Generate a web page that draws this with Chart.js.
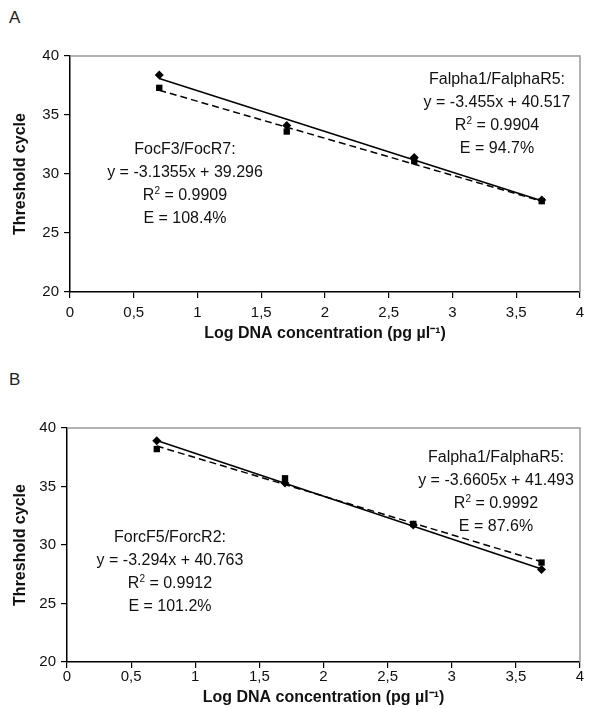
<!DOCTYPE html>
<html>
<head>
<meta charset="utf-8">
<script src="https://cdn.jsdelivr.net/npm/chart.js@4.4.1/dist/chart.umd.min.js"></script>
<style>
  body { margin: 0; background: #fff; width: 616px; height: 708px; position: relative; overflow: hidden; font-family: "Liberation Sans", Arial, sans-serif; }
  .panel-label { position: absolute; left: 9px; font-size: 17px; color: #222; }
  canvas { position: absolute; left: 0; }
</style>
</head>
<body>
<div class="panel-label" style="top: 8px;">A</div>
<div class="panel-label" style="top: 370px;">B</div>
<canvas id="chartA" width="616" height="350" style="top:0"></canvas>
<canvas id="chartB" width="616" height="348" style="top:360px"></canvas>
<script>
// x values (log DNA concentration)
const logConc = [0.7, 1.7, 2.7, 3.7];
const xTicks = [0, 0.5, 1, 1.5, 2, 2.5, 3, 3.5, 4];
const yTicks = [20, 25, 30, 35, 40];

// panel A threshold cycles
const ctA_falpha = [38.4, 34.1, 31.4, 27.8];
const ctA_foc = [37.3, 33.6, 31.1, 27.7];
// panel B threshold cycles
const ctB_falpha = [38.9, 35.3, 31.7, 27.9];
const ctB_forc = [38.2, 35.7, 31.8, 28.5];

// trendline equations [solid, dashed]
const slopeA = [-3.455, -3.1355];
const interceptA = [40.517, 39.296];
const slopeB = [-3.6605, -3.294];
const interceptB = [41.493, 40.763];

const primerA = ["Falpha1/FalphaR5:", "FocF3/FocR7:"];
const r2A = ["0.9904", "0.9909"];
const effA = ["94.7%", "108.4%"];
const primerB = ["Falpha1/FalphaR5:", "ForcF5/ForcR2:"];
const r2B = ["0.9992", "0.9912"];
const effB = ["87.6%", "101.2%"];

const FONT = "'Liberation Sans', Arial, sans-serif";

function trend(slope, icpt) {
  const x0 = logConc[0], x1 = logConc[logConc.length - 1];
  return [{ x: x0, y: slope * x0 + icpt }, { x: x1, y: slope * x1 + icpt }];
}

function pts(ys) {
  return logConc.map((x, i) => ({ x: x, y: ys[i] }));
}

// draws the equation blocks + grey top/right frame
const textPlugin = {
  id: "eqText",
  afterDraw(chart, args, opts) {
    const ctx = chart.ctx;
    const area = chart.chartArea;
    ctx.save();
    ctx.strokeStyle = "#999";
    ctx.lineWidth = 1.5;
    ctx.beginPath();
    ctx.moveTo(area.left, area.top);
    ctx.lineTo(area.right, area.top);
    ctx.lineTo(area.right, area.bottom);
    ctx.stroke();

    const big = "16px " + FONT, small = "10px " + FONT;
    ctx.fillStyle = "#111";
    ctx.textBaseline = "middle";
    opts.blocks.forEach(b => {
      ctx.textAlign = "center";
      ctx.font = big;
      ctx.fillText(b.name, b.x, b.y);
      ctx.fillText("y = " + b.slope + "x + " + b.icpt, b.x, b.y + 23);
      // R² line with raised 2
      const rest = " = " + b.r2;
      const wR = ctx.measureText("R").width;
      const wRest = ctx.measureText(rest).width;
      ctx.font = small;
      const w2 = ctx.measureText("2").width;
      const sx = b.x - (wR + w2 + wRest) / 2;
      ctx.textAlign = "left";
      ctx.font = big;
      ctx.fillText("R", sx, b.y + 46);
      ctx.font = small;
      ctx.fillText("2", sx + wR, b.y + 41);
      ctx.font = big;
      ctx.fillText(rest, sx + wR + w2, b.y + 46);
      ctx.textAlign = "center";
      ctx.fillText("E = " + b.eff, b.x, b.y + 69);
    });
    ctx.restore();
  }
};

function makeChart(id, cfg) {
  const axisFont = { family: FONT, size: 15 };
  const titleFont = { family: FONT, size: 16, weight: "bold" };
  return new Chart(document.getElementById(id), {
    type: "scatter",
    data: {
      datasets: [
        { data: trend(cfg.slope[0], cfg.icpt[0]), showLine: true, borderColor: "#000", borderWidth: 1.5, pointRadius: 0 },
        { data: trend(cfg.slope[1], cfg.icpt[1]), showLine: true, borderColor: "#000", borderWidth: 1.5, borderDash: [7, 4], pointRadius: 0 },
        { data: pts(cfg.solid), pointStyle: "rectRot", pointRadius: 4.5, backgroundColor: "#000", borderColor: "#000", borderWidth: 0 },
        { data: pts(cfg.dashed), pointStyle: "rect", pointRadius: 4.5, backgroundColor: "#000", borderColor: "#000", borderWidth: 0 }
      ]
    },
    options: {
      responsive: false,
      animation: false,
      layout: { padding: { top: cfg.padTop, right: 36, left: 0, bottom: 0 } },
      plugins: {
        legend: { display: false },
        tooltip: { enabled: false },
        eqText: { blocks: cfg.blocks }
      },
      scales: {
        x: {
          type: "linear", min: 0, max: 4,
          afterBuildTicks: s => { s.ticks = xTicks.map(v => ({ value: v })); },
          afterFit: s => { s.height = cfg.xHeight; },
          ticks: { color: "#111", font: axisFont, padding: cfg.xPad, maxRotation: 0,
                   callback: v => String(v).replace(".", ",") },
          grid: { drawOnChartArea: false, color: "#000", tickLength: 6, lineWidth: 1.2 },
          border: { color: "#000", width: 1.5 },
          title: { display: true, text: "Log DNA concentration (pg µl⁻¹)", color: "#111", font: titleFont,
                   padding: { top: 0, bottom: cfg.titlePad } }
        },
        y: {
          min: 20, max: 40,
          afterBuildTicks: s => { s.ticks = yTicks.map(v => ({ value: v })); },
          afterFit: s => { s.width = cfg.yWidth; },
          ticks: { color: "#111", font: axisFont, padding: 5 },
          grid: { drawOnChartArea: false, color: "#000", tickLength: 6, lineWidth: 1.2 },
          border: { color: "#000", width: 1.5 },
          title: { display: true, text: "Threshold cycle", color: "#111", font: titleFont,
                   padding: { top: 11, bottom: 0 } }
        }
      }
    },
    plugins: [textPlugin]
  });
}

makeChart("chartA", {
  slope: slopeA, icpt: interceptA, solid: ctA_falpha, dashed: ctA_foc,
  padTop: 56, xHeight: 58, xPad: 6, titlePad: 7, yWidth: 70,
  blocks: [
    { name: primerA[0], slope: slopeA[0], icpt: interceptA[0], r2: r2A[0], eff: effA[0], x: 497, y: 80 },
    { name: primerA[1], slope: slopeA[1], icpt: interceptA[1], r2: r2A[1], eff: effA[1], x: 185, y: 150 }
  ]
});

makeChart("chartB", {
  slope: slopeB, icpt: interceptB, solid: ctB_falpha, dashed: ctB_forc,
  padTop: 68, xHeight: 46, xPad: 0, titlePad: 1, yWidth: 67,
  blocks: [
    { name: primerB[0], slope: slopeB[0], icpt: interceptB[0], r2: r2B[0], eff: effB[0], x: 496, y: 98 },
    { name: primerB[1], slope: slopeB[1], icpt: interceptB[1], r2: r2B[1], eff: effB[1], x: 170, y: 178 }
  ]
});
</script>
</body>
</html>
